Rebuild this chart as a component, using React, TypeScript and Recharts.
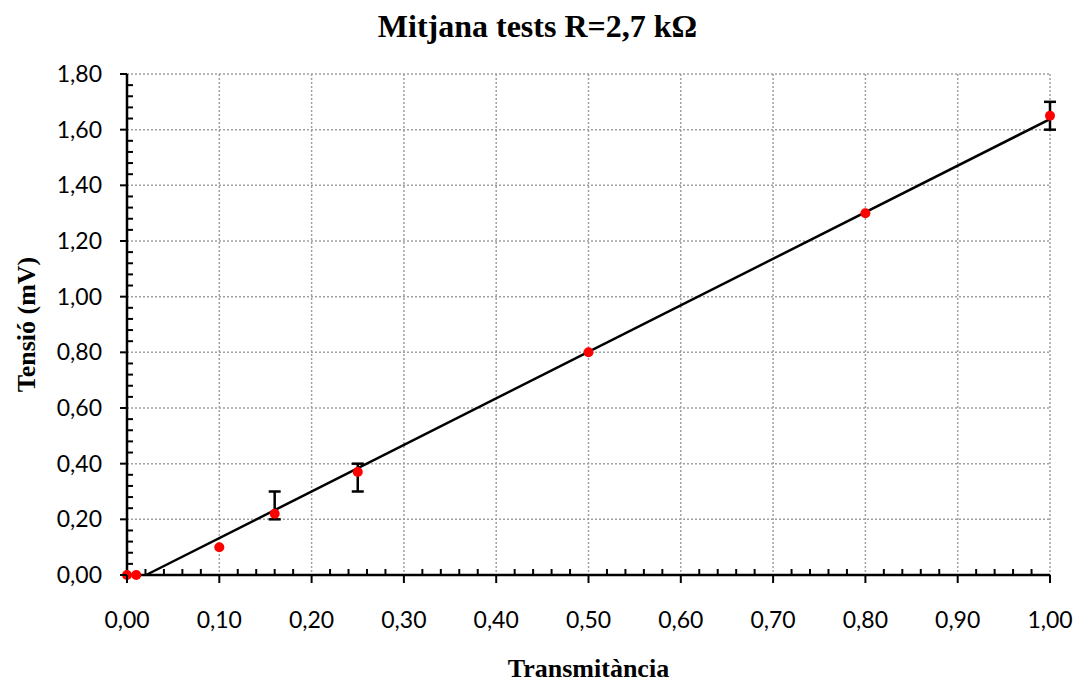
import { ComposedChart, Scatter, Line, XAxis, YAxis, CartesianGrid, ErrorBar, Label } from "recharts"

// Mean of the tests at R = 2,7 kΩ
const transmittance = [0, 0.01, 0.1, 0.16, 0.25, 0.5, 0.8, 1.0]
const voltage = [0, 0, 0.1, 0.22, 0.37, 0.8, 1.3, 1.65]
// spread below / above each mean (null = no spread)
const errorLow = [null, null, null, 0.02, 0.07, null, null, 0.05]
const errorHigh = [null, null, null, 0.08, 0.03, null, null, 0.05]

const xMajorTicks = [0, 0.1, 0.2, 0.3, 0.4, 0.5, 0.6, 0.7, 0.8, 0.9, 1.0]
const yMajorTicks = [0, 0.2, 0.4, 0.6, 0.8, 1.0, 1.2, 1.4, 1.6, 1.8]

const TICK_FONT = "Lato, 'Open Sans', sans-serif"
const LABEL_FONT = "'Liberation Serif', 'Times New Roman', serif"

// majors plus 4 minor subdivisions between each pair
const withMinor = (majors: number[], parts = 5) => {
  const out: number[] = []
  majors.forEach((v, i) => {
    out.push(v)
    const next = majors[i + 1]
    if (next === undefined) return
    for (let k = 1; k < parts; k++) out.push(+(v + ((next - v) * k) / parts).toFixed(4))
  })
  return out
}

const xTicks = withMinor(xMajorTicks)
const yTicks = withMinor(yMajorTicks)
const xMajorSet = new Set(xMajorTicks)
const yMajorSet = new Set(yMajorTicks)

const fmt = (v: number) => v.toFixed(2).replace(".", ",")

const points = transmittance.map((x, i) => ({
  x,
  y: voltage[i],
  err: errorLow[i] == null ? null : [errorLow[i], errorHigh[i]],
}))

// least-squares linear trend, drawn from where it crosses 0 up to x = 1
const n = transmittance.length
const mx = transmittance.reduce((a, b) => a + b, 0) / n
const my = voltage.reduce((a, b) => a + b, 0) / n
let sxy = 0
let sxx = 0
transmittance.forEach((x, i) => {
  sxy += (x - mx) * (voltage[i] - my)
  sxx += (x - mx) * (x - mx)
})
const slope = sxy / sxx
const intercept = my - slope * mx
const fitLine = [
  { x: -intercept / slope, fit: 0 },
  { x: 1, fit: slope + intercept },
]

const XTick = ({ x, y, payload }: any) => {
  if (!xMajorSet.has(payload.value)) {
    return <line x1={x} y1={y} x2={x} y2={y - 6} stroke="#000" strokeWidth={2} />
  }
  return (
    <g>
      <line x1={x} y1={y} x2={x} y2={y + 8} stroke="#000" strokeWidth={2} />
      <text x={x} y={y + 53} textAnchor="middle" fontFamily={TICK_FONT} fontSize={23} fill="#000">
        {fmt(payload.value)}
      </text>
    </g>
  )
}

const YTick = ({ x, y, payload }: any) => {
  if (!yMajorSet.has(payload.value)) {
    return <line x1={x} y1={y} x2={x + 6} y2={y} stroke="#000" strokeWidth={2} />
  }
  return (
    <g>
      <line x1={x - 7} y1={y} x2={x} y2={y} stroke="#000" strokeWidth={2} />
      <text x={x - 25} y={y + 8} textAnchor="end" fontFamily={TICK_FONT} fontSize={23} fill="#000">
        {fmt(payload.value)}
      </text>
    </g>
  )
}

export default function App() {
  return (
    <div style={{ position: "absolute", left: 0, top: 0, width: 1084, height: 682, background: "#fff" }}>
      <div
        style={{
          position: "absolute",
          left: 0,
          top: 10,
          width: 1075,
          textAlign: "center",
          fontFamily: LABEL_FONT,
          fontWeight: "bold",
          fontSize: 32,
          lineHeight: "32px",
        }}
      >
        Mitjana tests R=2,7 kΩ
      </div>
      <ComposedChart width={1084} height={682} margin={{ top: 74, right: 34, bottom: 0, left: 0 }}>
        <CartesianGrid
          stroke="#a0a0a0"
          strokeWidth={1.5}
          strokeDasharray="2 2"
          verticalValues={xMajorTicks.slice(1)}
          horizontalValues={yMajorTicks.slice(1)}
        />
        <XAxis
          type="number"
          dataKey="x"
          domain={[0, 1]}
          ticks={xTicks}
          interval={0}
          tickSize={0}
          tickMargin={0}
          tick={XTick}
          tickLine={false}
          axisLine={{ stroke: "#000", strokeWidth: 2.5 }}
          height={107}
        >
          <Label
            content={({ viewBox }: any) => (
              <text
                x={viewBox.x + viewBox.width / 2}
                y={677}
                textAnchor="middle"
                fontFamily={LABEL_FONT}
                fontWeight="bold"
                fontSize={26}
                fill="#000"
              >
                Transmitància
              </text>
            )}
          />
        </XAxis>
        <YAxis
          type="number"
          domain={[0, 1.8]}
          ticks={yTicks}
          interval={0}
          tickSize={0}
          tickMargin={0}
          tick={YTick}
          tickLine={false}
          axisLine={{ stroke: "#000", strokeWidth: 2.5 }}
          width={127}
        >
          <Label
            content={({ viewBox }: any) => {
              const cy = viewBox.y + viewBox.height / 2
              return (
                <text
                  x={35}
                  y={cy}
                  transform={`rotate(-90 35 ${cy})`}
                  textAnchor="middle"
                  fontFamily={LABEL_FONT}
                  fontWeight="bold"
                  fontSize={26}
                  fill="#000"
                >
                  Tensió (mV)
                </text>
              )
            }}
          />
        </YAxis>
        <Line
          data={fitLine}
          dataKey="fit"
          stroke="#000"
          strokeWidth={2.5}
          dot={false}
          activeDot={false}
          legendType="none"
          isAnimationActive={false}
        />
        <Scatter
          data={points}
          dataKey="y"
          isAnimationActive={false}
          shape={(p: any) => <circle cx={p.cx} cy={p.cy} r={5} fill="#ff0000" />}
        >
          <ErrorBar dataKey="err" direction="y" width={6} stroke="#000" strokeWidth={2.5} isAnimationActive={false} />
        </Scatter>
      </ComposedChart>
    </div>
  )
}
